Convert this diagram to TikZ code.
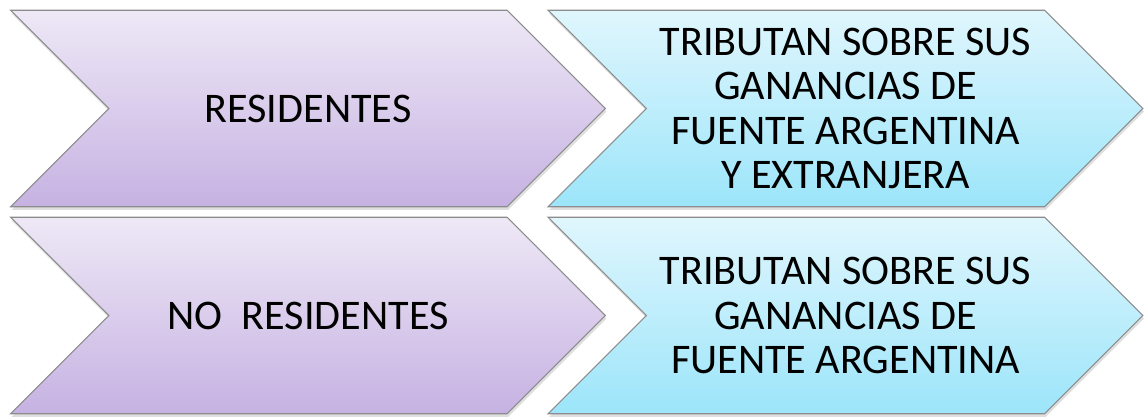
\documentclass[tikz,border=0pt]{standalone}
\usepackage{fontspec}
\setmainfont{Carlito}
\usetikzlibrary{shapes.symbols,shadows}
\definecolor{lilatop}{HTML}{EEE8F6}
\definecolor{lilabot}{HTML}{C6B2E2}
\definecolor{celtop}{HTML}{E0F6FD}
\definecolor{celbot}{HTML}{9CE5FA}
\definecolor{borde}{HTML}{8C8C8C}
\tikzset{
  % flechas
  flecha/.style={signal,signal from=west,signal to=east,signal pointer angle=90,
                 draw=borde,line width=0.6pt,minimum width=11.9cm,minimum height=3.93cm,
                 inner sep=0pt,align=center,font=\fontsize{24}{25.3}\selectfont,
                 drop shadow={opacity=0.25,shadow xshift=0.6pt,shadow yshift=-1.8pt}},
  quien/.style={flecha,top color=lilatop,bottom color=lilabot},
  como/.style={flecha,top color=celtop,bottom color=celbot},
}
\begin{document}
\begin{tikzpicture}[x=0.02cm,y=-0.02cm]
  \useasboundingbox (0,0) rectangle (1146,416);
  \node[quien] (res)   at (308,108.5) {RESIDENTES};
  \node[como]  (resg)  at (845.5,108.5) {TRIBUTAN SOBRE SUS\\GANANCIAS DE\\FUENTE ARGENTINA\\Y EXTRANJERA};
  \node[quien] (nores) at (308,315.5) {NO~~RESIDENTES};
  \node[como]  (noresg) at (845.5,315.5) {TRIBUTAN SOBRE SUS\\GANANCIAS DE\\FUENTE ARGENTINA};
\end{tikzpicture}
\end{document}
